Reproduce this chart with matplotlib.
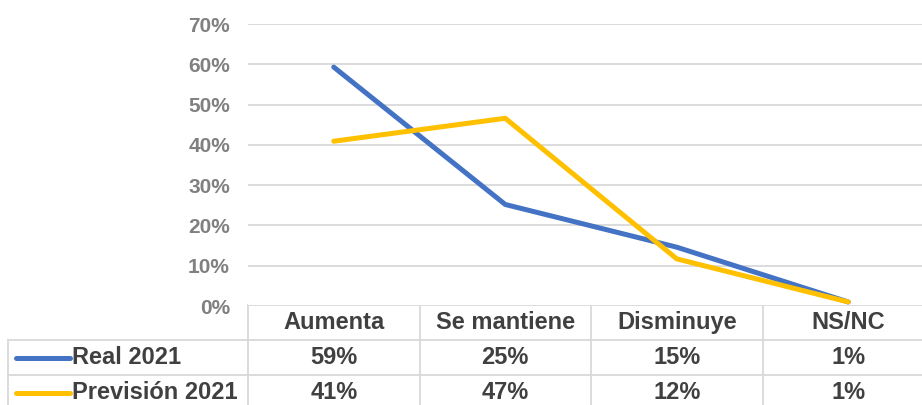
import matplotlib.pyplot as plt
from matplotlib.transforms import blended_transform_factory

plt.rcParams['font.family'] = ['Liberation Sans', 'DejaVu Sans']

categorias = ['Aumenta', 'Se mantiene', 'Disminuye', 'NS/NC']
series = ['Real 2021', 'Previsión 2021']
real_2021 = [0.593, 0.252, 0.146, 0.010]
prevision_2021 = [0.409, 0.466, 0.117, 0.010]
colores = ['#4472C4', '#FFC000']
yticks = [0, 0.1, 0.2, 0.3, 0.4, 0.5, 0.6, 0.7]

W, H = 922, 405
fig = plt.figure(figsize=(W / 100, H / 100), dpi=100)

# area del grafico (se sale un poco por la derecha, como en el original)
x0, x1, y_top, y_bot = 248, 934, 24, 306
ax = fig.add_axes([x0 / W, (H - y_bot) / H, (x1 - x0) / W, (y_bot - y_top) / H])

xs = [i + 0.5 for i in range(len(categorias))]
for vals, col in zip([real_2021, prevision_2021], colores):
    ax.plot(xs, vals, color=col, lw=3.6, solid_capstyle='round', zorder=3)

ax.set_xlim(0, len(categorias))
ax.set_ylim(0, 0.7)
ax.set_yticks(yticks)
ax.set_yticklabels([f'{int(round(t * 100))}%' for t in yticks])
ax.tick_params(axis='y', length=0, pad=13, labelsize=15, labelcolor='#808080')
for lab in ax.get_yticklabels():
    lab.set_fontweight('bold')
ax.set_xticks([])
ax.grid(axis='y', color='#D9D9D9', lw=1.3)
for s in ax.spines.values():
    s.set_visible(False)

# tabla de datos debajo del grafico
tab = fig.add_axes([0, 0, 1, 1], zorder=-1)
tab.set_xlim(0, W)
tab.set_ylim(H, 0)
tab.axis('off')
tr = blended_transform_factory(ax.transData, tab.transData)

gris = '#D9D9D9'
texto = '#404040'
filas = [305, 340, 375, 410]
n = len(categorias)

tab.plot([0, n], [filas[0], filas[0]], color=gris, lw=1.3, transform=tr)
for y in filas[1:3]:
    tab.plot([8, W], [y, y], color=gris, lw=1.3)
tab.plot([8, 8], [filas[1], filas[3]], color=gris, lw=1.3)
for i in range(n + 1):
    tab.plot([i, i], [filas[0], filas[3]], color=gris, lw=1.3, transform=tr)

yc = [(filas[k] + filas[k + 1]) / 2 for k in range(3)]
for i, c in enumerate(categorias):
    tab.text(i + 0.5, yc[0], c, transform=tr, ha='center', va='center',
             fontsize=17, fontweight='bold', color=texto)

for r, (nombre, vals, col) in enumerate(zip(series, [real_2021, prevision_2021], colores)):
    y = yc[r + 1]
    tab.plot([16, 70], [y, y], color=col, lw=3.6, solid_capstyle='round')
    tab.text(72, y, nombre, ha='left', va='center', fontsize=17,
             fontweight='bold', color=texto)
    for i, v in enumerate(vals):
        tab.text(i + 0.5, y, f'{round(v * 100):.0f}%', transform=tr,
                 ha='center', va='center', fontsize=17, fontweight='bold', color=texto)

fig.savefig('out.png', dpi=100)
